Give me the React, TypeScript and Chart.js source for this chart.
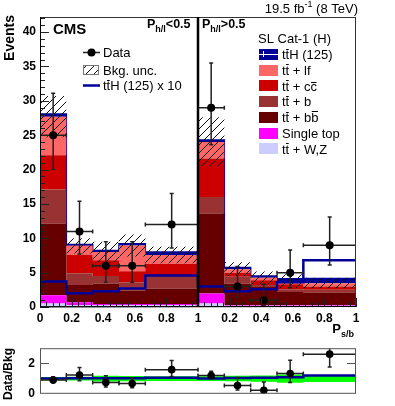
import React, { useEffect, useRef } from 'react';
import { Chart, registerables } from 'chart.js';

Chart.register(...registerables);

// ---------------- data ----------------
const binEdges = [0, 1 / 6, 2 / 6, 3 / 6, 4 / 6, 1, 7 / 6, 8 / 6, 9 / 6, 10 / 6, 2];
const xTickValues = [0, 0.2, 0.4, 0.6, 0.8, 1, 1.2, 1.4, 1.6, 1.8, 2];
const yTickValues = [0, 5, 10, 15, 20, 25, 30, 35, 40];
const ratioTickValues = [0, 2];

const ttV = [0.5, 0.3, 0.3, 0.3, 0.3, 0.5, 0.2, 0.2, 0.2, 0.2];
const singleTop = [1.2, 0.4, 0.15, 0.15, 0.15, 1.45, 0.1, 0.1, 0.1, 0.1];
const ttbb = [10.4, 2.5, 2.95, 1.95, 2.25, 11.65, 3.1, 2.6, 1.9, 1.8];
const ttb = [5.0, 1.7, 1.1, 1.2, 1.9, 2.4, 1.0, 0.3, 0.4, 0.4];
const ttcc = [5.0, 2.7, 2.3, 1.6, 1.7, 5.6, 0.6, 0.7, 0.7, 0.5];
const ttlf = [5.6, 1.3, 1.2, 3.75, 1.25, 2.4, 0.5, 0.35, 0.45, 0.45];
const ttH = [0.37, 0.2, 0.23, 0.27, 0.46, 0.3, 0.23, 0.26, 0.36, 0.68];
const bkgUnc = [3.0, 1.1, 1.5, 1.6, 1.2, 3.6, 1.0, 0.9, 1.0, 0.8];
const dataCounts = [25, 11, 6, 6, 12, 29, 3, 1, 5, 9];
const dataErrUp = [6.1, 4.4, 3.5, 3.5, 4.5, 6.5, 2.9, 2.3, 3.3, 4.1];
const dataErrDown = [5.0, 3.3, 2.4, 2.4, 3.4, 5.4, 1.6, 0.8, 2.2, 2.9];
const signalScale = 10;

// ---------------- styles ----------------
const COL_TTV = '#ccccff';
const COL_ST = '#ff00ff';
const COL_BB = '#660000';
const COL_B = '#993333';
const COL_CC = '#cc0000';
const COL_LF = '#ff6666';
const COL_TTH = '#000099';
const COL_BAND = '#00ff00';
const FONT = "'Liberation Sans', Arial, Helvetica, sans-serif";

// ---------------- derived ----------------
const layers = [ttV, singleTop, ttbb, ttb, ttcc, ttlf, ttH];
const layerColors = [COL_TTV, COL_ST, COL_BB, COL_B, COL_CC, COL_LF, COL_TTH];
const cum: number[][] = [];
layers.forEach((arr, k) => cum.push(arr.map((v, i) => (k ? cum[k - 1][i] : 0) + v)));
const bkg = cum[5];
const centers = binEdges.slice(0, -1).map((e, i) => (e + binEdges[i + 1]) / 2);
const stepPts = (vals: number[]) =>
  binEdges.map((e, i) => ({ x: e, y: vals[Math.min(i, vals.length - 1)] }));

type Seg = { t: string; bar?: number; sub?: boolean; sup?: boolean };

function drawRich(
  ctx: CanvasRenderingContext2D,
  x: number,
  y: number,
  segs: Seg[],
  size: number,
  weight = 'normal',
  align: 'left' | 'right' = 'left',
  subRatio = 0.68
) {
  const subSize = Math.round(size * subRatio);
  let total = 0;
  const widths = segs.map((s) => {
    ctx.font = `${weight} ${s.sub || s.sup ? subSize : size}px ${FONT}`;
    const w = ctx.measureText(s.t).width;
    total += w;
    return w;
  });
  let cx = align === 'right' ? x - total : x;
  ctx.textAlign = 'left';
  ctx.textBaseline = 'alphabetic';
  segs.forEach((s, i) => {
    const fs = s.sub || s.sup ? subSize : size;
    ctx.font = `${weight} ${fs}px ${FONT}`;
    const dy = s.sub ? size * 0.28 : s.sup ? -size * 0.42 : 0;
    ctx.fillText(s.t, cx, y + dy);
    if (s.bar) {
      ctx.save();
      ctx.beginPath();
      ctx.lineWidth = 1;
      ctx.strokeStyle = ctx.fillStyle as string;
      const by = Math.round(y - fs * s.bar) + 0.5;
      ctx.moveTo(cx + 0.5, by);
      ctx.lineTo(cx + widths[i] - 0.5, by);
      ctx.stroke();
      ctx.restore();
    }
    cx += widths[i];
  });
}

function makeHatch(): CanvasPattern | string {
  const pc = document.createElement('canvas');
  pc.width = 8;
  pc.height = 8;
  const g = pc.getContext('2d');
  if (!g) return 'rgba(0,0,0,0.2)';
  g.strokeStyle = '#111';
  g.lineWidth = 1;
  g.beginPath();
  g.moveTo(0, 8);
  g.lineTo(8, 0);
  g.moveTo(-4, 4);
  g.lineTo(4, -4);
  g.moveTo(4, 12);
  g.lineTo(12, 4);
  g.stroke();
  const p = g.createPattern(pc, 'repeat');
  return p || 'rgba(0,0,0,0.2)';
}

function drawErrBars(chart: any, vals: number[], up: number[], down: number[]) {
  const { ctx, chartArea, scales } = chart;
  const xs = scales.x;
  const ys = scales.y;
  ctx.save();
  ctx.beginPath();
  ctx.rect(chartArea.left, chartArea.top, chartArea.right - chartArea.left, chartArea.bottom - chartArea.top);
  ctx.clip();
  ctx.strokeStyle = '#222';
  ctx.lineWidth = 1.5;
  vals.forEach((v, i) => {
    const px = xs.getPixelForValue(centers[i]);
    const x0 = xs.getPixelForValue(binEdges[i]);
    const x1 = xs.getPixelForValue(binEdges[i + 1]);
    const py = ys.getPixelForValue(v);
    const pyu = ys.getPixelForValue(v + up[i]);
    const pyd = ys.getPixelForValue(v - down[i]);
    ctx.beginPath();
    ctx.moveTo(x0, py);
    ctx.lineTo(x1, py);
    ctx.moveTo(px, pyu);
    ctx.lineTo(px, pyd);
    ctx.moveTo(x0, py - 2);
    ctx.lineTo(x0, py + 2);
    ctx.moveTo(x1, py - 2);
    ctx.lineTo(x1, py + 2);
    ctx.moveTo(px - 2, pyu);
    ctx.lineTo(px + 2, pyu);
    ctx.moveTo(px - 2, pyd);
    ctx.lineTo(px + 2, pyd);
    ctx.stroke();
  });
  ctx.restore();
}

const tickFont = { family: FONT, size: 12, weight: 'bold' as const };
const fmtX = (value: any) => {
  const v = Number(value);
  const w = v > 1.0001 ? v - 1 : v;
  if (Math.abs(w) < 1e-6) return '0';
  if (Math.abs(w - 1) < 1e-6) return '1';
  return w.toFixed(1);
};

export default function App() {
  const mainRef = useRef<HTMLCanvasElement>(null);
  const ratioRef = useRef<HTMLCanvasElement>(null);

  useEffect(() => {
    if (!mainRef.current || !ratioRef.current) return;
    const hatch = makeHatch();

    // ---------- main panel ----------
    const stackSets = layers.map((_, k) => ({
      data: stepPts(cum[k]),
      stepped: 'before' as const,
      backgroundColor: layerColors[k],
      borderColor: k === 6 ? COL_TTH : 'transparent',
      borderWidth: k === 6 ? 1.5 : 0,
      fill: k === 0 ? 'origin' : '-1',
      pointRadius: 0,
      order: 10,
    }));
    const mainDatasets: any[] = [
      ...stackSets,
      {
        data: stepPts(bkg.map((b, i) => b - bkgUnc[i])),
        stepped: 'before',
        borderColor: 'transparent',
        borderWidth: 0,
        fill: false,
        pointRadius: 0,
        order: 6,
      },
      {
        data: stepPts(bkg.map((b, i) => b + bkgUnc[i])),
        stepped: 'before',
        borderColor: 'transparent',
        borderWidth: 0,
        backgroundColor: hatch,
        fill: '-1',
        pointRadius: 0,
        order: 6,
      },
      {
        data: stepPts(ttH.map((v) => v * signalScale)),
        stepped: 'before',
        borderColor: COL_TTH,
        borderWidth: 2.5,
        fill: false,
        pointRadius: 0,
        order: 3,
      },
      {
        data: dataCounts.map((v, i) => ({ x: centers[i], y: v })),
        showLine: false,
        pointRadius: 4,
        pointBackgroundColor: '#000',
        pointBorderColor: '#000',
        pointBorderWidth: 0,
        order: 0,
      },
    ];
    const dataIdx = mainDatasets.length - 1;

    const mainPlugin = {
      id: 'mainDeco',
      beforeDatasetDraw(chart: any, args: any) {
        if (args.index === dataIdx) drawErrBars(chart, dataCounts, dataErrUp, dataErrDown);
      },
      afterDatasetsDraw(chart: any) {
        const { ctx, chartArea, scales } = chart;
        const { left, right, top, bottom } = chartArea;
        const xs = scales.x;
        const ys = scales.y;
        ctx.save();
        ctx.strokeStyle = '#222';
        ctx.lineWidth = 1;
        ctx.beginPath();
        for (let v = 0; v <= 42; v++) {
          const py = Math.round(ys.getPixelForValue(v)) + 0.5;
          const len = v % 5 === 0 ? 9 : 5;
          ctx.moveTo(left, py);
          ctx.lineTo(left + len, py);
        }
        for (let k = 0; k <= 50; k++) {
          const px = Math.round(xs.getPixelForValue(k * 0.04)) + 0.5;
          const len = k % 5 === 0 ? 9 : 5;
          ctx.moveTo(px, bottom);
          ctx.lineTo(px, bottom - len);
        }
        ctx.stroke();
        ctx.strokeStyle = '#333';
        ctx.strokeRect(left + 0.5, top + 0.5, right - left - 1, bottom - top - 1);
        ctx.strokeStyle = '#000';
        ctx.beginPath();
        ctx.moveTo(left + 0.5, top);
        ctx.lineTo(left + 0.5, bottom);
        ctx.lineTo(right, bottom - 0.5);
        ctx.stroke();
        const dx = xs.getPixelForValue(1);
        ctx.lineWidth = 2.5;
        ctx.beginPath();
        ctx.moveTo(dx, top);
        ctx.lineTo(dx, bottom);
        ctx.stroke();
        ctx.restore();
      },
      afterDraw(chart: any) {
        const ctx: CanvasRenderingContext2D = chart.ctx;
        ctx.save();
        ctx.fillStyle = '#000';
        // title
        drawRich(ctx, 358, 12.5, [{ t: '19.5 fb' }, { t: '-1', sup: true }, { t: ' (8 TeV)' }], 13, 'normal', 'right');
        // CMS
        ctx.font = `bold 15px ${FONT}`;
        ctx.textAlign = 'left';
        ctx.textBaseline = 'alphabetic';
        ctx.fillText('CMS', 53, 34);
        // region labels
        drawRich(ctx, 147, 28, [{ t: 'P' }, { t: 'h/l', sub: true }, { t: '<0.5' }], 12.5, 'bold');
        drawRich(ctx, 202, 28, [{ t: 'P' }, { t: 'h/l', sub: true }, { t: '>0.5' }], 12.5, 'bold');
        // x title
        drawRich(ctx, 354, 333, [{ t: 'P' }, { t: 's/b', sub: true }], 13, 'bold', 'right');
        // y title
        ctx.save();
        ctx.translate(13.5, 15);
        ctx.rotate(-Math.PI / 2);
        ctx.font = `bold 14px ${FONT}`;
        ctx.textAlign = 'right';
        ctx.textBaseline = 'alphabetic';
        ctx.fillText('Events', 0, 0);
        ctx.restore();

        // left legend
        const lx0 = 83;
        const lx1 = 100;
        const ltx = 103;
        ctx.strokeStyle = '#222';
        ctx.lineWidth = 1.5;
        ctx.beginPath();
        ctx.moveTo(lx0, 52.5);
        ctx.lineTo(lx1, 52.5);
        ctx.stroke();
        ctx.beginPath();
        ctx.arc((lx0 + lx1) / 2, 52.5, 4, 0, Math.PI * 2);
        ctx.fill();
        drawRich(ctx, ltx, 57.2, [{ t: 'Data' }], 13);
        ctx.fillStyle = hatch as any;
        ctx.fillRect(lx0, 65, lx1 - lx0 - 1, 10);
        ctx.strokeStyle = '#777';
        ctx.lineWidth = 1;
        ctx.strokeRect(lx0 + 0.5, 65.5, lx1 - lx0 - 2, 9);
        ctx.fillStyle = '#000';
        drawRich(ctx, ltx, 74.6, [{ t: 'Bkg. unc.' }], 13);
        ctx.strokeStyle = COL_TTH;
        ctx.lineWidth = 2.5;
        ctx.beginPath();
        ctx.moveTo(lx0, 85.5);
        ctx.lineTo(lx1, 85.5);
        ctx.stroke();
        drawRich(ctx, ltx, 90.2, [{ t: 't' }, { t: 't', bar: 0.8 }, { t: 'H (125) x 10' }], 13);

        // right legend
        drawRich(ctx, 258, 42.7, [{ t: 'SL Cat-1 (H)' }], 13);
        const entries: { segs: Seg[]; color: string }[] = [
          { segs: [{ t: 't' }, { t: 't', bar: 0.8 }, { t: 'H (125)' }], color: COL_TTH },
          { segs: [{ t: 't' }, { t: 't', bar: 0.8 }, { t: ' + lf' }], color: COL_LF },
          { segs: [{ t: 't' }, { t: 't', bar: 0.8 }, { t: ' + c' }, { t: 'c', bar: 0.66 }], color: COL_CC },
          { segs: [{ t: 't' }, { t: 't', bar: 0.8 }, { t: ' + b' }], color: COL_B },
          { segs: [{ t: 't' }, { t: 't', bar: 0.8 }, { t: ' + b' }, { t: 'b', bar: 0.86 }], color: COL_BB },
          { segs: [{ t: 'Single top' }], color: COL_ST },
          { segs: [{ t: 't' }, { t: 't', bar: 0.8 }, { t: ' + W,Z' }], color: COL_TTV },
        ];
        entries.forEach((e, i) => {
          const cy = 54.3 + i * 15.75;
          ctx.fillStyle = e.color;
          ctx.fillRect(259, Math.round(cy - 5.5), 19, 11);
          if (i === 0) {
            ctx.strokeStyle = '#fff';
            ctx.lineWidth = 1;
            ctx.beginPath();
            ctx.moveTo(259, Math.round(cy) + 0.5);
            ctx.lineTo(278, Math.round(cy) + 0.5);
            ctx.moveTo(263.5, Math.round(cy - 3));
            ctx.lineTo(263.5, Math.round(cy + 3));
            ctx.stroke();
          }
          ctx.fillStyle = '#000';
          drawRich(ctx, 282, cy + 4.7, e.segs, 13);
        });
        ctx.restore();
      },
    };

    const mainChart = new Chart(mainRef.current, {
      type: 'line',
      data: { datasets: mainDatasets },
      options: {
        responsive: false,
        animation: false,
        devicePixelRatio: 1,
        events: [],
        layout: { padding: { top: 17, right: 39, left: 0, bottom: 0 } },
        plugins: { legend: { display: false }, tooltip: { enabled: false } },
        scales: {
          x: {
            type: 'linear',
            min: 0,
            max: 2,
            grid: { display: false, drawTicks: false },
            border: { display: false },
            afterBuildTicks: (s: any) => {
              s.ticks = xTickValues.map((v) => ({ value: v }));
            },
            afterFit: (s: any) => {
              s.height = 38;
            },
            ticks: {
              autoSkip: false,
              maxRotation: 0,
              minRotation: 0,
              padding: 4,
              color: '#000',
              font: tickFont,
              callback: fmtX,
            },
          },
          y: {
            type: 'linear',
            min: 0,
            max: 42.2,
            grid: { display: false, drawTicks: false },
            border: { display: false },
            afterBuildTicks: (s: any) => {
              s.ticks = yTickValues.map((v) => ({ value: v }));
            },
            afterFit: (s: any) => {
              s.width = 40;
            },
            ticks: { padding: 4, color: '#000', font: tickFont },
          },
        },
      } as any,
      plugins: [mainPlugin],
    });

    // ---------- ratio panel ----------
    const ratioVals = dataCounts.map((d, i) => d / bkg[i]);
    const ratioUp = dataErrUp.map((e, i) => e / bkg[i]);
    const ratioDown = dataErrDown.map((e, i) => e / bkg[i]);
    const ratioDatasets: any[] = [
      {
        data: stepPts(bkgUnc.map((u, i) => 1 - u / bkg[i])),
        stepped: 'before',
        borderColor: 'transparent',
        borderWidth: 0,
        fill: false,
        pointRadius: 0,
        order: 10,
      },
      {
        data: stepPts(bkgUnc.map((u, i) => 1 + u / bkg[i])),
        stepped: 'before',
        borderColor: 'transparent',
        borderWidth: 0,
        backgroundColor: COL_BAND,
        fill: '-1',
        pointRadius: 0,
        order: 10,
      },
      {
        data: stepPts(ttH.map((s, i) => (bkg[i] + s) / bkg[i])),
        stepped: 'before',
        borderColor: COL_TTH,
        borderWidth: 2.5,
        fill: false,
        pointRadius: 0,
        order: 5,
      },
      {
        data: ratioVals.map((v, i) => ({ x: centers[i], y: v })),
        showLine: false,
        pointRadius: 3.8,
        pointBackgroundColor: '#000',
        pointBorderColor: '#000',
        pointBorderWidth: 0,
        order: 0,
      },
    ];
    const rIdx = ratioDatasets.length - 1;
    const ratioPlugin = {
      id: 'ratioDeco',
      beforeDatasetDraw(chart: any, args: any) {
        if (args.index === rIdx) drawErrBars(chart, ratioVals, ratioUp, ratioDown);
      },
      afterDatasetsDraw(chart: any) {
        const { ctx, chartArea, scales } = chart;
        const { left, right, top, bottom } = chartArea;
        const ys = scales.y;
        ctx.save();
        ctx.strokeStyle = '#555';
        ctx.lineWidth = 1;
        ctx.strokeRect(left + 0.5, top + 0.5, right - left - 1, bottom - top - 1);
        ctx.beginPath();
        const py = Math.round(ys.getPixelForValue(2)) + 0.5;
        ctx.moveTo(left, py);
        ctx.lineTo(left + 9, py);
        ctx.moveTo(right, py);
        ctx.lineTo(right - 9, py);
        ctx.stroke();
        ctx.restore();
      },
      afterDraw(chart: any) {
        const ctx: CanvasRenderingContext2D = chart.ctx;
        ctx.save();
        ctx.fillStyle = '#000';
        ctx.translate(11.5, 12);
        ctx.rotate(-Math.PI / 2);
        ctx.font = `bold 12px ${FONT}`;
        ctx.textAlign = 'right';
        ctx.textBaseline = 'alphabetic';
        ctx.fillText('Data/Bkg', 0, 0);
        ctx.restore();
      },
    };
    const ratioChart = new Chart(ratioRef.current, {
      type: 'line',
      data: { datasets: ratioDatasets },
      options: {
        responsive: false,
        animation: false,
        devicePixelRatio: 1,
        events: [],
        layout: { padding: { top: 6, right: 39, left: 0, bottom: 8 } },
        plugins: { legend: { display: false }, tooltip: { enabled: false } },
        scales: {
          x: { type: 'linear', min: 0, max: 2, display: false },
          y: {
            type: 'linear',
            min: 0,
            max: 3,
            grid: { display: false, drawTicks: false },
            border: { display: false },
            afterBuildTicks: (s: any) => {
              s.ticks = ratioTickValues.map((v) => ({ value: v }));
            },
            afterFit: (s: any) => {
              s.width = 40;
            },
            ticks: { padding: 5, color: '#000', font: tickFont },
          },
        },
      } as any,
      plugins: [ratioPlugin],
    });

    return () => {
      mainChart.destroy();
      ratioChart.destroy();
    };
  }, []);

  return (
    <div style={{ position: 'fixed', left: 0, top: 0, width: 395, height: 406, background: '#fff' }}>
      <canvas ref={mainRef} width={395} height={345} style={{ position: 'absolute', left: 0, top: 0 }} />
      <canvas ref={ratioRef} width={395} height={70} style={{ position: 'absolute', left: 0, top: 336 }} />
    </div>
  );
}
